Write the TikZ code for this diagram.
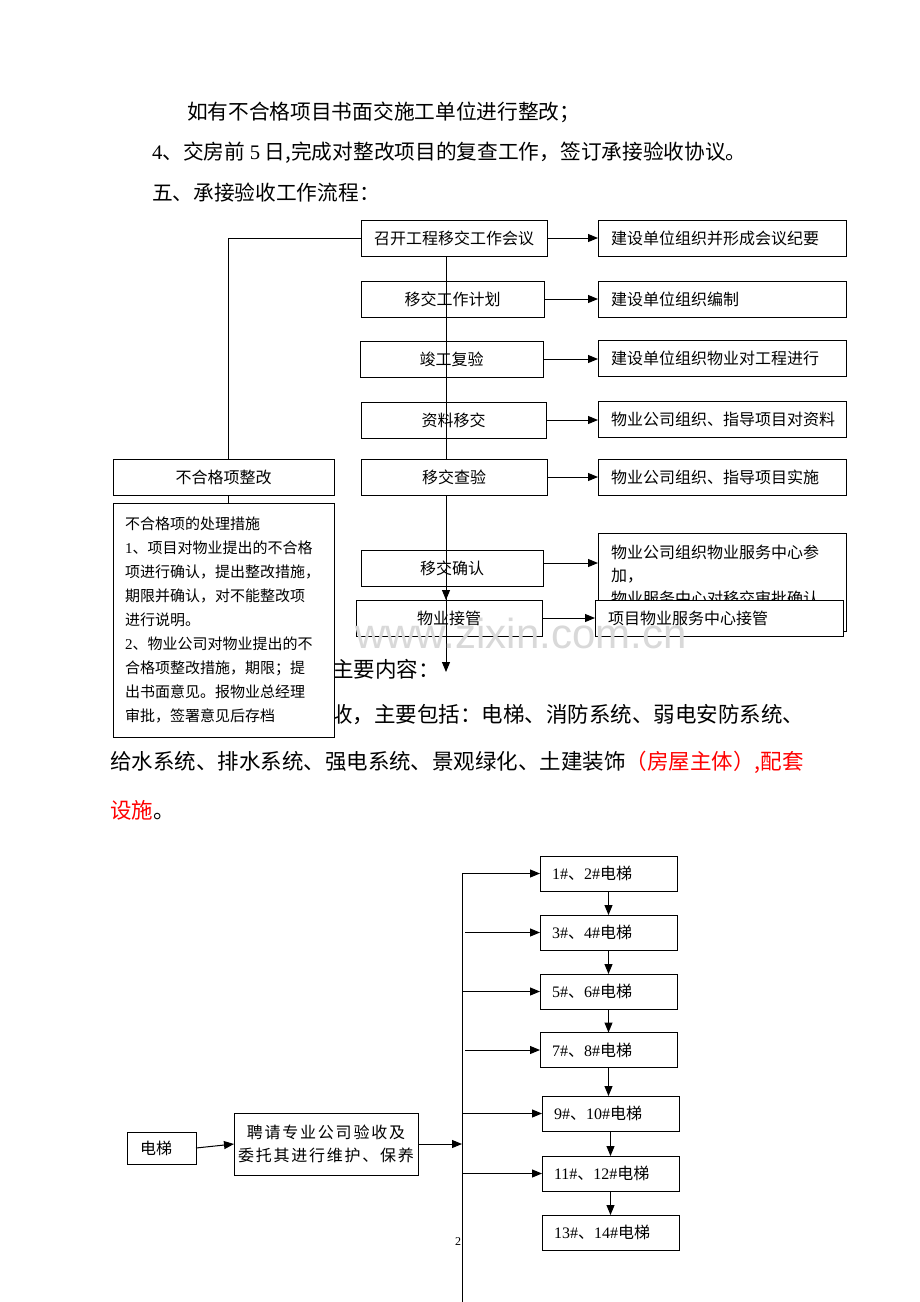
\documentclass[tikz,border=0pt]{standalone}
\usepackage{fontspec}
\setmainfont{Noto Sans CJK SC}
\newfontfamily\latin{Liberation Serif}
\newfontfamily\wmark{Liberation Sans}
\usepackage{tikz}
\usetikzlibrary{arrows.meta,positioning,calc}

\begin{document}
\begin{tikzpicture}[
    x=1pt, y=-1pt,
    every node/.style={inner sep=0pt, outer sep=0pt},
    body/.style={anchor=west, font=\fontsize{20.7}{24}\selectfont},
    bodylow/.style={anchor=west, font=\fontsize{21.5}{24}\selectfont},
    block/.style={rectangle, draw=black, line width=1pt, fill=white, minimum width=186pt, minimum height=36pt, align=center, font=\fontsize{16}{19}\selectfont},
    note/.style={block, minimum width=248pt, text width=222pt, align=left},
    lift/.style={block, minimum width=137pt, minimum height=35pt, text width=113pt, align=left},
    arrow/.style={line width=1pt, -{Triangle[length=10pt,width=8pt]}},
    line/.style={line width=1pt}
]
    \fill[white] (0,0) rectangle (920,1302);
    \useasboundingbox (0,0) rectangle (920,1302);

    % Text lines
    \node[body] (line1) at (187,112) {如有不合格项目书面交施工单位进行整改；};
    \node[body] (line2) at (152,153) {{\latin 4}、交房前 {\latin 5} 日,完成对整改项目的复查工作，签订承接验收协议。};
    \node[body] (line3) at (152,193) {五、承接验收工作流程：};
    \node[bodylow] (line4) at (332,669) {主要内容：};
    \node[bodylow] (line5) at (331,715) {收，主要包括：电梯、消防系统、弱电安防系统、};
    \node[bodylow] (line6) at (110,762) {给水系统、排水系统、强电系统、景观绿化、土建装饰\textcolor{red}{（房屋主体）,配套}};
    \node[bodylow] (line7) at (110,810) {\textcolor{red}{设施}。};

    % Nodes
    \node[block] (meet) at (454,238) {召开工程移交工作会议};
    \node[block, minimum width=183pt] (plan) at (452.5,299) {移交工作计划};
    \node[block, minimum width=183pt] (recheck) at (451.5,359) {竣工复验};
    \node[block, minimum width=185pt] (docs) at (453.5,420) {资料移交};
    \node[block] (inspect) at (454,477) {移交查验};
    \node[block, minimum width=182pt] (confirm) at (452,568) {移交确认};
    \node[block] (takeover) at (449,618) {物业接管};

    \node[note] (meetR) at (722,238) {建设单位组织并形成会议纪要};
    \node[note] (planR) at (722,299) {建设单位组织编制};
    \node[note] (recheckR) at (722,358) {建设单位组织物业对工程进行};
    \node[note] (docsR) at (722,419) {物业公司组织、指导项目对资料};
    \node[note] (inspectR) at (722,477) {物业公司组织、指导项目实施};
    \node[note, minimum height=98pt] (confirmR) at (722,582) {};
    \node[anchor=north west, align=left, font=\fontsize{16}{23}\selectfont] (confirmT) at (611,545) {物业公司组织物业服务中心参\\加，\\物业服务中心对移交审批确认};
    \node[note, minimum width=248pt] (takeoverR) at (719,618) {项目物业服务中心接管};

    \node[block, minimum width=221pt] (reject) at (223.5,477) {不合格项整改};
    \node[block, anchor=north, minimum width=221pt, minimum height=234pt, text width=197pt, align=left, font=\fontsize{15}{24}\selectfont] (measure) at (223.5,503) {不合格项的处理措施\\{\latin 1}、项目对物业提出的不合格\\项进行确认，提出整改措施，\\期限并确认，对不能整改项\\进行说明。\\{\latin 2}、物业公司对物业提出的不\\合格项整改措施，期限；提\\出书面意见。报物业总经理\\审批，签署意见后存档};

    % Arrows
    \coordinate (spine) at ([xshift=-8pt]meet.south);
    \draw[line] (spine) -- (spine |- inspect.north);
    \draw[arrow] (spine |- inspect.south) -- (spine |- takeover.north);
    \coordinate (spineEnd) at (446,672);
    \draw[arrow] (spine |- inspect.south) -- (spineEnd);
    \foreach \a/\b in {meet/meetR, plan/planR, recheck/recheckR, docs/docsR, inspect/inspectR, takeover/takeoverR}
        \draw[arrow] (\a.east) -- (\a.east -| \b.west);
    \draw[arrow] ([yshift=5pt]confirm.east) -- ([yshift=5pt]confirm.east -| confirmR.west);
    \coordinate (loop) at ([xshift=5pt]reject.north);
    \draw[line] (meet.west) -- (meet.west -| loop) -- (loop);
    \draw[line] ([xshift=5pt]reject.south) -- ([xshift=5pt]measure.north);

    % Lift flow
    \node[lift] (lift12) at (608.5,873.5) {{\latin 1\#}、{\latin 2\#}电梯};
    \node[lift] (lift34) at (608.5,932.5) {{\latin 3\#}、{\latin 4\#}电梯};
    \node[lift] (lift56) at (608.5,991.5) {{\latin 5\#}、{\latin 6\#}电梯};
    \node[lift] (lift78) at (608.5,1050) {{\latin 7\#}、{\latin 8\#}电梯};
    \node[lift] (lift910) at (610.5,1113.5) {{\latin 9\#}、{\latin 10\#}电梯};
    \node[lift] (lift1112) at (610.5,1173.5) {{\latin 11\#}、{\latin 12\#}电梯};
    \node[lift] (lift1314) at (610.5,1232.5) {{\latin 13\#}、{\latin 14\#}电梯};

    \node[block, minimum width=69pt, minimum height=32pt, text width=43pt, align=left] (elev) at (161.5,1148) {电梯};
    \node[block, minimum width=184pt, minimum height=62pt, align=center, font=\fontsize{16}{23}\selectfont\addfontfeature{LetterSpace=11}] (hire) at (326,1144) {聘请专业公司验收及\\委托其进行维护、保养};
    \node[font=\latin\fontsize{12}{12}\selectfont] (pagenum) at (458,1242) {2};

    \coordinate (trunkTop) at (462,873.5);
    \coordinate (trunkBot) at (462,1302);
    \draw[line] (trunkTop) -- (trunkBot);
    \draw[arrow] (trunkTop) -- (lift12.west);
    \draw[arrow] ([xshift=3pt]lift34.west -| trunkTop) -- (lift34.west);
    \draw[arrow] (lift56.west -| trunkTop) -- (lift56.west);
    \draw[arrow] ([xshift=3pt]lift78.west -| trunkTop) -- (lift78.west);
    \draw[arrow] (lift910.west -| trunkTop) -- (lift910.west);
    \draw[arrow] (lift1112.west -| trunkTop) -- (lift1112.west);
    \foreach \a/\b in {lift12/lift34, lift34/lift56, lift56/lift78, lift910/lift1112, lift1112/lift1314}
        \draw[arrow] (\a.south) -- (\b.north);
    \draw[arrow] (lift78.south) -- (lift78.south |- lift910.north);
    \draw[arrow] (elev.east) -- (hire.west);
    \draw[arrow] (hire.east) -- (hire.east -| trunkTop);

    % Watermark
    \node[font=\wmark\fontsize{42}{42}\selectfont, text=black!15] (wm) at (521,633) {www.zixin.com.cn};

\end{tikzpicture}
\end{document}
